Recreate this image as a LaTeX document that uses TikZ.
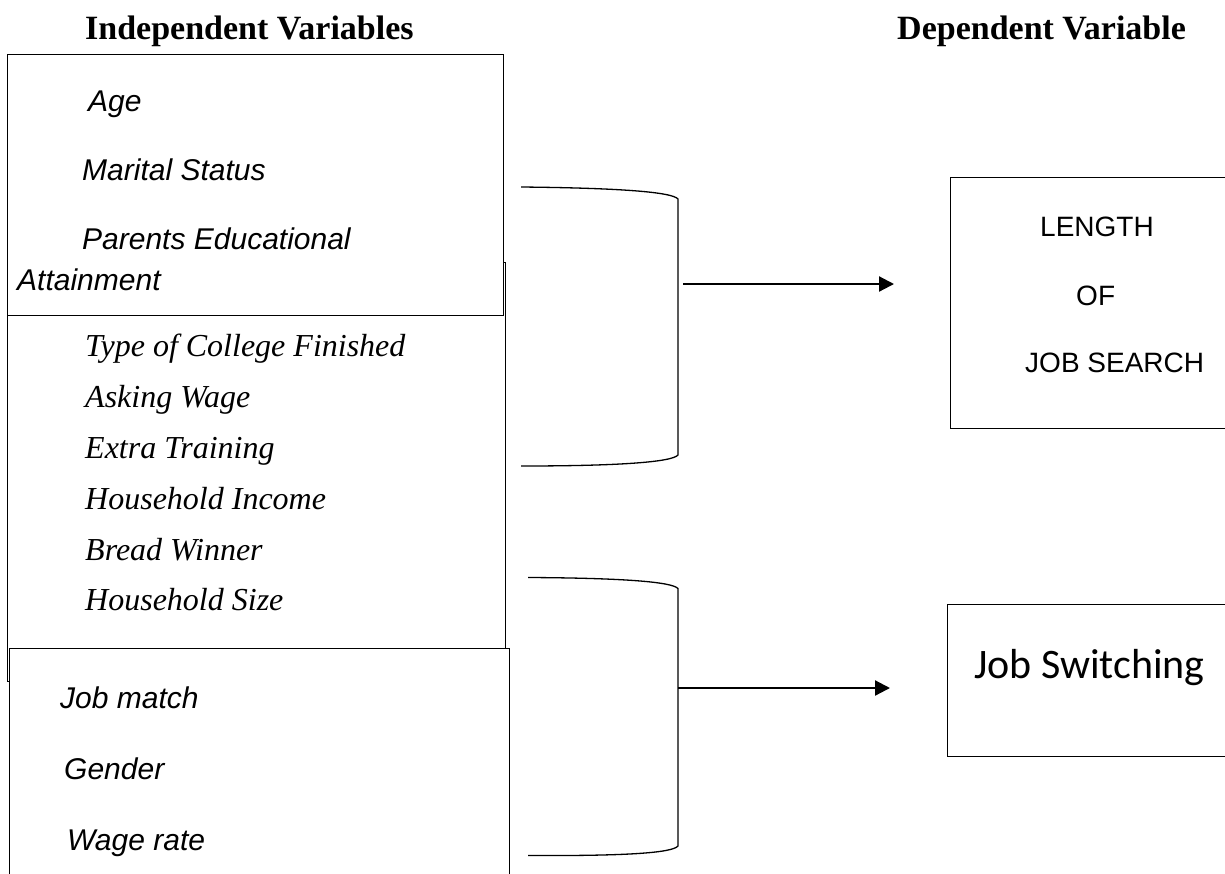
\documentclass[tikz,border=0pt]{standalone}
\usepackage{fontspec}
\setmainfont{Liberation Serif}
\setsansfont{Liberation Sans}
\newfontfamily\calibrifont{Carlito}
\usetikzlibrary{arrows.meta}

\tikzset{
  varbox/.style={draw, line width=1pt, fill=white, inner sep=0pt, anchor=north west},
  headtext/.style={anchor=base west, inner sep=0pt, font=\fontsize{34}{40}\selectfont\bfseries},
  sansitem/.style={anchor=base west, inner sep=0pt, font=\fontsize{30}{36}\selectfont\sffamily\itshape},
  serifitem/.style={anchor=base west, inner sep=0pt, font=\fontsize{32}{38}\selectfont\itshape},
  outtext/.style={anchor=base west, inner sep=0pt, font=\fontsize{28}{34}\selectfont\sffamily},
  bracket/.style={line width=1.3pt},
  link/.style={line width=2.2pt, -{Triangle[length=15pt, width=15pt]}}
}

\begin{document}
\begin{tikzpicture}[x=1pt, y=-1pt]
            \useasboundingbox (0,0) rectangle (1225,873);
            \clip (0,0) rectangle (1225,873);

            % headings
            \node[headtext] (indhead) at (85,39.3) {Independent Variables};
            \node[headtext] (dephead) at (897,39.3) {Dependent Variable};

            % left boxes (middle one first, the others cover it)
            \node[varbox, minimum width=498pt, minimum height=419pt] (housebox) at (7,262) {};
            \node[varbox, minimum width=496pt, minimum height=261pt] (personbox) at (7,53.5) {};
            \node[varbox, minimum width=500pt, minimum height=260pt] (jobbox) at (8.6,647.5) {};

            \node[sansitem] (age) at (88,111.7) {Age};
            \node[sansitem] (marital) at (82,180.3) {Marital Status};
            \node[sansitem] (parents) at (82,249) {Parents Educational};
            \node[sansitem] (attain) at (17,290.7) {Attainment};

            \node[serifitem] (college) at (85,356.7) {Type of College Finished};
            \node[serifitem] (asking) at (85,407.3) {Asking Wage};
            \node[serifitem] (training) at (85,458.3) {Extra Training};
            \node[serifitem] (income) at (85,509.3) {Household Income};
            \node[serifitem] (winner) at (85,560) {Bread Winner};
            \node[serifitem] (hsize) at (85,610.7) {Household Size};

            \node[sansitem] (match) at (60,708.9) {Job match};
            \node[sansitem] (gender) at (64,779.5) {Gender};
            \node[sansitem] (wage) at (67,850) {Wage rate};

            % right boxes
            \node[varbox, minimum width=290pt, minimum height=251pt] (lengthbox) at (950,176.5) {};
            \node[outtext] (length) at (1040,236) {LENGTH};
            \node[outtext] (of) at (1076,305) {OF};
            \node[outtext] (search) at (1025,372.7) {JOB SEARCH};

            \node[varbox, minimum width=293pt, minimum height=152pt] (switchbox) at (947,604) {};
            \node[anchor=base west, inner sep=0pt, font=\calibrifont\fontsize{42}{50}\selectfont] (switch) at (974,678) {Job Switching};

            % brackets
            \draw[bracket] (521,187) .. controls (620,188) and (672,192) .. (678,199)
                -- (678,455) .. controls (672,462) and (620,466) .. (521,466);
            \draw[bracket] (528,577.5) .. controls (625,578) and (672,582) .. (678,588.5)
                -- (678,846) .. controls (672,853) and (625,856) .. (528,855.5);

            % arrows
            \coordinate (fork1) at (683,284);
            \coordinate (tip1) at (894,284);
            \coordinate (fork2) at (678,688);
            \coordinate (tip2) at (890,688);
            \draw[link] (fork1) -- (tip1);
            \draw[link] (fork2) -- (tip2);
        \end{tikzpicture}
\end{document}
